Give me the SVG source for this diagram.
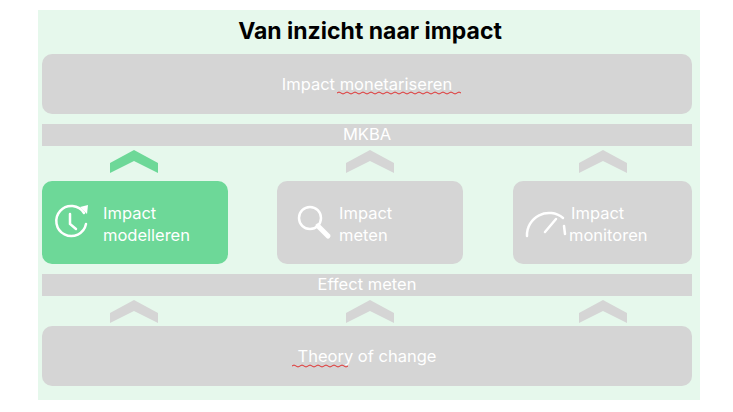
<svg xmlns="http://www.w3.org/2000/svg" width="733" height="412" viewBox="0 0 733 412">
<style>
.box{fill:#d5d5d5}
.g{fill:#6dd898}
.t{font-family:Inter,"Noto Sans",sans-serif;fill:#fff;font-size:16.5px}
.c{text-anchor:middle}
.ic{fill:none;stroke:#fff;stroke-width:2.5;stroke-linecap:round}
.sq{fill:none;stroke:#e03030;stroke-width:1}
</style>
<defs>
<polygon id="chev" points="-24,163 0,150 24,163 24,173 0,161 -24,173"/>
</defs>
<rect x="38" y="10" width="662" height="390" fill="#e6f8ec"/>
<text x="370" y="39" class="c" font-family="Inter,'Noto Sans',sans-serif" font-weight="bold" font-size="23" fill="#000">Van inzicht naar impact</text>
<g id="monetariseren">
<rect class="box" x="42" y="54" width="650" height="60" rx="10"/>
<text class="t c" x="367" y="90">Impact monetariseren</text>
<path class="sq" d="M337 93 q2 -2 4 0 t4 0 t4 0 t4 0 t4 0 t4 0 t4 0 t4 0 t4 0 t4 0 t4 0 t4 0 t4 0 t4 0 t4 0 t4 0 t4 0 t4 0 t4 0 t4 0 t4 0 t4 0 t4 0 t4 0 t4 0 t4 0 t4 0 t4 0 t4 0 t4 0 t4 0"/>
</g>
<g id="mkba">
<rect class="box" x="42" y="124" width="650" height="22"/>
<text class="t c" x="367" y="140" font-size="14">MKBA</text>
</g>
<g id="connectors">
<use href="#chev" x="134" fill="#6dd898"/>
<use href="#chev" x="370" fill="#d5d5d5"/>
<use href="#chev" x="603" fill="#d5d5d5"/>
<use href="#chev" x="134" y="150" fill="#d5d5d5"/>
<use href="#chev" x="370" y="150" fill="#d5d5d5"/>
<use href="#chev" x="603" y="150" fill="#d5d5d5"/>
</g>
<g id="modelleren">
<rect class="g" x="42" y="181" width="186" height="83" rx="10"/>
<path class="ic" d="M84 213 A15 15 0 1 0 86 224"/>
<path class="ic" d="M70 214 v10 l6 5"/>
<path d="M80 207 l8 -2 l-1 9 z" fill="#fff"/>
<text class="t" x="103" y="219">Impact</text>
<text class="t" x="103" y="241">modelleren</text>
</g>
<g id="meten">
<rect class="box" x="277" y="181" width="186" height="83" rx="10"/>
<circle class="ic" cx="310" cy="218" r="11"/>
<path d="M318 226 l10 10" stroke="#fff" stroke-width="5" stroke-linecap="round"/>
<text class="t" x="339" y="219">Impact</text>
<text class="t" x="339" y="241">meten</text>
</g>
<g id="monitoren">
<rect class="box" x="513" y="181" width="179" height="83" rx="10"/>
<path class="ic" d="M527 236 A22 22 0 0 1 563 218"/>
<path class="ic" d="M556 219 l-11 13"/>
<path class="ic" d="M564 226 l1 8"/>
<text class="t" x="571" y="219">Impact</text>
<text class="t" x="569" y="241">monitoren</text>
</g>
<g id="effect">
<rect class="box" x="42" y="274" width="650" height="22"/>
<text class="t c" x="367" y="290" font-size="14">Effect meten</text>
</g>
<g id="theory">
<rect class="box" x="42" y="326" width="650" height="60" rx="10"/>
<text class="t c" x="367" y="362">Theory of change</text>
<path class="sq" d="M292 366 q2 -2 4 0 t4 0 t4 0 t4 0 t4 0 t4 0 t4 0 t4 0 t4 0 t4 0 t4 0 t4 0 t4 0 t4 0"/>
</g>
</svg>
